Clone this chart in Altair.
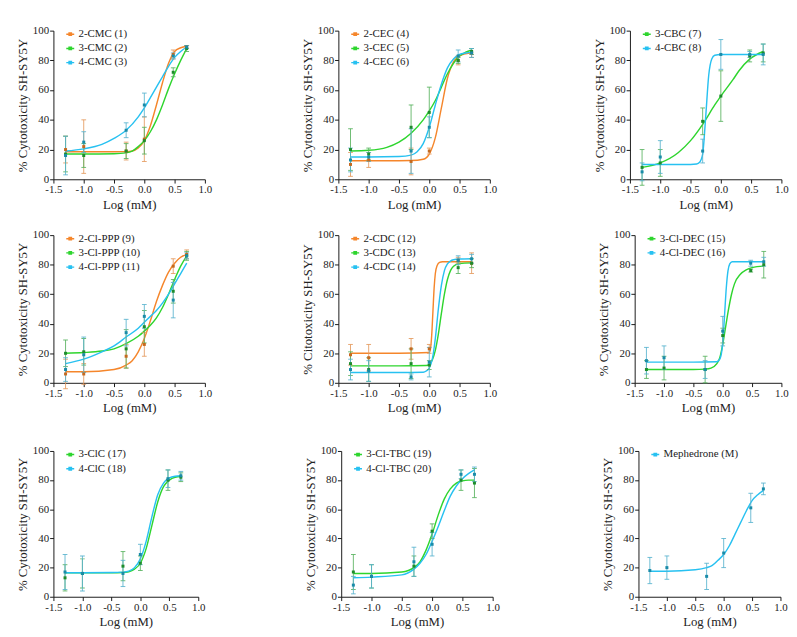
import altair as alt
import pandas as pd

# Concentrations (log mM)
X = [-1.3, -1.0, -0.3, 0.0, 0.477, 0.699]

# ---------- Panel 1: CMC ----------
cmc2_mean = [20, 22, 19, 27, 84, 89]
cmc2_err = [9, 18, 6, 15, 3, 1]
cmc2_cx = [-1.3, -1.0, -0.5, -0.3, -0.2, -0.1, 0.0, 0.1, 0.2, 0.3, 0.4, 0.5, 0.6, 0.7]
cmc2_cy = [18.5, 18.5, 18.5, 18.6, 19, 21, 26, 36, 50, 65, 78, 86, 88.5, 89.5]
cmc3_mean = [17, 16, 19, 26, 72, 88]
cmc3_err = [12, 8, 5, 9, 3, 2]
cmc3_cx = [-1.3, -1.0, -0.5, -0.3, -0.2, -0.1, 0.0, 0.1, 0.2, 0.3, 0.4, 0.5, 0.6, 0.7]
cmc3_cy = [17, 17, 17.2, 17.8, 19, 22, 26, 32, 40, 50, 61, 71, 80, 88]
cmc4_mean = [16, 25, 33, 50, 83, 89]
cmc4_err = [13, 7, 5, 8, 2, 1]
cmc4_cx = [-1.3, -1.0, -0.7, -0.5, -0.3, -0.1, 0.0, 0.1, 0.2, 0.3, 0.4, 0.5, 0.6, 0.7]
cmc4_cy = [19, 20.5, 23.5, 27.5, 33, 42, 48, 55, 62, 69, 76, 82, 86, 89]

# ---------- Panel 2: CEC ----------
cec2_mean = [10, 13, 12, 19, 80, 85]
cec2_err = [8, 5, 9, 2, 3, 3]
cec2_cx = [-1.3, -1.0, -0.5, -0.3, -0.1, 0.0, 0.1, 0.2, 0.3, 0.4, 0.5, 0.6, 0.7]
cec2_cy = [12.5, 12.5, 12.5, 12.6, 13.5, 17, 28, 48, 68, 79, 83, 84.5, 85]
cec3_mean = [20, 17, 35, 45, 80, 86]
cec3_err = [14, 4, 15, 17, 2, 2]
cec3_cx = [-1.3, -1.0, -0.7, -0.5, -0.3, -0.1, 0.0, 0.1, 0.2, 0.3, 0.4, 0.5, 0.6, 0.7]
cec3_cy = [19, 19.5, 21.5, 25, 31, 40, 46, 53, 62, 71, 78, 83, 85.5, 87]
cec4_mean = [13, 15, 19, 35, 83, 85]
cec4_err = [8, 3, 15, 7, 4, 3]
cec4_cx = [-1.3, -1.0, -0.5, -0.3, -0.2, -0.1, 0.0, 0.1, 0.2, 0.3, 0.4, 0.5, 0.6, 0.7]
cec4_cy = [15, 15, 15.3, 16.3, 18.5, 24, 35, 50, 64, 75, 81, 84, 85, 85.5]

# ---------- Panel 3: CBC ----------
cbc3_mean = [8, 11, 39, 56, 83, 85]
cbc3_err = [12, 9, 9, 17, 4, 6]
cbc3_cx = [-1.3, -1.0, -0.7, -0.5, -0.3, -0.1, 0.0, 0.2, 0.3, 0.48, 0.7]
cbc3_cy = [8, 11, 18, 26, 37, 50, 56, 67, 73, 81, 86]
cbc4_mean = [5, 15, 19, 84, 84, 84]
cbc4_err = [6, 11, 8, 10, 2, 7]
cbc4_cx = [-1.3, -1.0, -0.5, -0.4, -0.35, -0.3, -0.25, -0.2, -0.15, -0.1, 0.0, 0.7]
cbc4_cy = [10, 10, 10, 10.3, 11.5, 17, 42, 70, 81, 83.5, 84, 84]

# ---------- Panel 4: Cl-PPP ----------
ppp2_mean = [6, 6, 18, 26, 79, 87]
ppp2_err = [10, 7, 8, 8, 5, 3]
ppp2_cx = [-1.3, -1.0, -0.5, -0.3, -0.2, -0.1, 0.0, 0.1, 0.2, 0.3, 0.4, 0.5, 0.6, 0.7]
ppp2_cy = [7.5, 7.5, 9, 12, 15, 21, 30, 42, 55, 66, 75, 81, 85, 87]
ppp3_mean = [20, 21, 23, 38, 62, 86]
ppp3_err = [9, 9, 13, 11, 8, 3]
ppp3_cx = [-1.3, -1.0, -0.7, -0.5, -0.3, -0.1, 0.0, 0.1, 0.2, 0.3, 0.4, 0.5, 0.6, 0.7]
ppp3_cy = [20, 20.5, 21.5, 23, 26.5, 31.5, 35, 39, 44, 51, 60, 70, 79, 86]
ppp4_mean = [9, 19, 34, 45, 56, 86]
ppp4_err = [8, 12, 9, 8, 12, 2]
ppp4_cx = [-1.3, -1.0, -0.7, -0.5, -0.3, -0.1, 0.0, 0.1, 0.2, 0.3, 0.4, 0.5, 0.6, 0.7]
ppp4_cy = [13, 16, 21, 25, 31, 37, 41, 45, 49, 54, 60, 67, 74, 81]

# ---------- Panel 5: CDC ----------
cdc2_mean = [19, 17, 23, 23, 83, 81]
cdc2_err = [7, 9, 7, 3, 2, 7]
cdc2_cx = [-1.3, -0.5, 0.0, 0.02, 0.04, 0.06, 0.08, 0.1, 0.13, 0.17, 0.22, 0.7]
cdc2_cy = [20, 20, 20.5, 23, 32, 48, 64, 74, 79.5, 81.5, 82, 82]
cdc3_mean = [13, 9, 13, 12, 78, 81]
cdc3_err = [8, 8, 10, 3, 4, 3]
cdc3_cx = [-1.3, -0.5, -0.05, 0.0, 0.05, 0.1, 0.15, 0.2, 0.25, 0.3, 0.35, 0.4, 0.5, 0.7]
cdc3_cy = [11.5, 11.5, 11.7, 12.5, 15.5, 22, 33, 47, 60, 70, 76, 79, 80.8, 81.2]
cdc4_mean = [9, 8, 4, 14, 83, 84]
cdc4_err = [7, 7, 2, 10, 3, 3]
cdc4_cx = [-1.3, -0.5, -0.1, -0.05, 0.0, 0.05, 0.1, 0.15, 0.2, 0.25, 0.3, 0.35, 0.4, 0.5, 0.7]
cdc4_cy = [7, 7, 7.2, 8, 10, 16, 30, 50, 66, 76, 80.5, 82.5, 83.3, 83.8, 84]

# ---------- Panel 6: Cl-DEC ----------
dec3_mean = [9, 10, 9, 32, 76, 80]
dec3_err = [6, 8, 9, 5, 1, 9]
dec3_cx = [-1.3, -0.5, -0.3, -0.2, -0.1, -0.05, 0.0, 0.05, 0.1, 0.15, 0.2, 0.3, 0.4, 0.5, 0.7]
dec3_cy = [9, 9, 9.3, 10, 13, 17, 26, 38, 50, 60, 67, 73.5, 76.5, 78, 79]
dec4_mean = [15, 17, 9, 35, 81, 82]
dec4_err = [9, 8, 6, 10, 2, 3]
dec4_cx = [-1.3, -0.5, -0.1, -0.05, 0.0, 0.03, 0.06, 0.09, 0.12, 0.16, 0.7]
dec4_cy = [14, 14, 14.3, 16, 27, 45, 64, 76, 80.5, 82, 82]

# ---------- Panel 7: ClC ----------
clc3_mean = [13, 16, 21, 23, 80, 82]
clc3_err = [9, 10, 10, 5, 7, 3]
clc3_cx = [-1.3, -1.0, -0.5, -0.3, -0.2, -0.1, 0.0, 0.1, 0.2, 0.3, 0.4, 0.5, 0.6, 0.7]
clc3_cy = [16.5, 16.5, 16.5, 16.7, 17.2, 19, 23, 33, 49, 65, 75.5, 80, 82, 82.5]
clc4_mean = [17, 16, 16, 29, 81, 83]
clc4_err = [12, 12, 9, 7, 6, 3]
clc4_cx = [-1.3, -1.0, -0.5, -0.3, -0.2, -0.1, 0.0, 0.1, 0.2, 0.3, 0.4, 0.5, 0.6, 0.7]
clc4_cy = [16.5, 16.5, 16.6, 16.9, 17.6, 20, 26, 38, 55, 70, 78, 81.5, 82.7, 83]

# ---------- Panel 8: Cl-TBC ----------
tbc3_mean = [17, 14, 21, 45, 80, 78]
tbc3_err = [12, 8, 7, 5, 7, 10]
tbc3_cx = [-1.3, -1.0, -0.5, -0.3, -0.2, -0.1, 0.0, 0.1, 0.2, 0.3, 0.4, 0.5, 0.6, 0.7]
tbc3_cy = [16, 16, 17, 20, 24, 32, 43, 56, 67, 74, 78, 79.5, 80, 80]
tbc4_mean = [8, 14, 24, 36, 84, 84]
tbc4_err = [6, 8, 10, 8, 3, 5]
tbc4_cx = [-1.3, -1.0, -0.5, -0.3, -0.2, -0.1, 0.0, 0.1, 0.2, 0.3, 0.4, 0.5, 0.6, 0.7]
tbc4_cy = [13, 13.5, 15, 19, 23, 29, 38, 48, 59, 69, 76, 81, 84.5, 87]

# ---------- Panel 9: Mephedrone ----------
meph_mean = [18, 20, 14, 30, 61, 74]
meph_err = [9, 8, 9, 10, 10, 4]
meph_cx = [-1.3, -1.0, -0.5, -0.3, -0.2, -0.1, 0.0, 0.1, 0.2, 0.3, 0.4, 0.5, 0.6, 0.7]
meph_cy = [17.5, 17.5, 18.5, 20, 21.5, 25, 29, 35, 43, 51, 59, 66, 70, 73]

X_TICKS = [-1.5, -1.0, -0.5, 0.0, 0.5, 1.0]
Y_TICKS = [0, 20, 40, 60, 80, 100]

CURVE = {"o": "#F5862B", "g": "#2ED52E", "b": "#27C1F1"}
MARK = {"o": "#C5691F", "g": "#1E8C2C", "b": "#1A8BA8"}
ERR = {"o": "#E49A5E", "g": "#58B25E", "b": "#58B3CE"}

FONT = "Liberation Serif"
AX = dict(grid=False, domainColor="#111", tickColor="#111", tickSize=4,
          labelFont=FONT, labelFontSize=11.5, labelColor="#222", labelPadding=1,
          labelOverlap=False, labelFlush=False,
          titleFont=FONT, titleFontSize=13.5, titleFontWeight="normal", titleColor="#222",
          titlePadding=3)


def panel(series, ytitle, w=160, h=156):
    names = [s[0] for s in series]
    curve_rows, pt_rows = [], []
    for name, col, mean, err, cx, cy in series:
        for xv, yv in zip(cx, cy):
            curve_rows.append({"name": name, "x": xv, "y": yv})
        for xv, m, e in zip(X, mean, err):
            pt_rows.append({"name": name, "x": xv, "y": m, "lo": m - e, "hi": m + e})
    cdf = pd.DataFrame(curve_rows)
    pdf = pd.DataFrame(pt_rows)

    xs = alt.Scale(domain=[-1.5, 1.0], nice=False, zero=False)
    ys = alt.Scale(domain=[0, 100], nice=False)
    xax = alt.Axis(values=X_TICKS, title="Log (mM)",
                   labelExpr="replace(format(datum.value, '.1f'), '\u2212', '-')", **AX)
    yax = alt.Axis(values=Y_TICKS, title=ytitle, format="d", **AX)

    X_ = alt.X("x:Q", scale=xs, axis=xax)

    def Y_(f):
        return alt.Y(f, scale=ys, axis=yax)

    lines = alt.Chart(cdf).mark_line(interpolate="monotone", strokeWidth=1.5).encode(
        x=X_, y=Y_("y:Q"),
        color=alt.Color("name:N", sort=names,
                        scale=alt.Scale(domain=names, range=[CURVE[s[1]] for s in series]),
                        legend=alt.Legend(orient="none", legendX=12, legendY=-2, title=None,
                                          symbolType="M-1,0H1M-0.3,-0.3H0.3V0.3H-0.3Z",
                                          symbolSize=70, symbolStrokeWidth=1.5,
                                          labelFont=FONT, labelFontSize=11.5, labelColor="#222",
                                          rowPadding=2, padding=0, labelOffset=3)),
    )
    layers = [lines]
    for name, col, *_ in series:
        sub = pdf[pdf["name"] == name]
        base = alt.Chart(sub)
        layers.append(base.mark_rule(strokeWidth=1, color=ERR[col], opacity=0.9).encode(
            x=X_, y=Y_("lo:Q"), y2="hi:Q"))
        layers.append(base.mark_tick(orient="horizontal", size=5, thickness=1,
                                     color=ERR[col], opacity=0.9).encode(x=X_, y=Y_("lo:Q")))
        layers.append(base.mark_tick(orient="horizontal", size=5, thickness=1,
                                     color=ERR[col], opacity=0.9).encode(x=X_, y=Y_("hi:Q")))
    for name, col, *_ in series:
        sub = pdf[pdf["name"] == name]
        layers.append(alt.Chart(sub).mark_square(size=10, color=MARK[col], opacity=1).encode(
            x=X_, y=Y_("y:Q")))
    return alt.layer(*layers).properties(width=w, height=h)


YT = "%  Cytotoxicity SH-SY5Y"

p1 = panel([("2-CMC (1)", "o", cmc2_mean, cmc2_err, cmc2_cx, cmc2_cy),
            ("3-CMC (2)", "g", cmc3_mean, cmc3_err, cmc3_cx, cmc3_cy),
            ("4-CMC (3)", "b", cmc4_mean, cmc4_err, cmc4_cx, cmc4_cy)], YT, h=157)
p2 = panel([("2-CEC (4)", "o", cec2_mean, cec2_err, cec2_cx, cec2_cy),
            ("3-CEC (5)", "g", cec3_mean, cec3_err, cec3_cx, cec3_cy),
            ("4-CEC (6)", "b", cec4_mean, cec4_err, cec4_cx, cec4_cy)], YT, h=157)
p3 = panel([("3-CBC (7)", "g", cbc3_mean, cbc3_err, cbc3_cx, cbc3_cy),
            ("4-CBC (8)", "b", cbc4_mean, cbc4_err, cbc4_cx, cbc4_cy)], YT, h=157)
p4 = panel([("2-Cl-PPP (9)", "o", ppp2_mean, ppp2_err, ppp2_cx, ppp2_cy),
            ("3-Cl-PPP (10)", "g", ppp3_mean, ppp3_err, ppp3_cx, ppp3_cy),
            ("4-Cl-PPP (11)", "b", ppp4_mean, ppp4_err, ppp4_cx, ppp4_cy)], YT)
p5 = panel([("2-CDC (12)", "o", cdc2_mean, cdc2_err, cdc2_cx, cdc2_cy),
            ("3-CDC (13)", "g", cdc3_mean, cdc3_err, cdc3_cx, cdc3_cy),
            ("4-CDC (14)", "b", cdc4_mean, cdc4_err, cdc4_cx, cdc4_cy)],
           "%  Citotoxicity SH-SY5Y")
p6 = panel([("3-Cl-DEC (15)", "g", dec3_mean, dec3_err, dec3_cx, dec3_cy),
            ("4-Cl-DEC (16)", "b", dec4_mean, dec4_err, dec4_cx, dec4_cy)], YT, w=155)
p7 = panel([("3-ClC (17)", "g", clc3_mean, clc3_err, clc3_cx, clc3_cy),
            ("4-ClC (18)", "b", clc4_mean, clc4_err, clc4_cx, clc4_cy)], YT, w=153, h=154)
p8 = panel([("3-Cl-TBC (19)", "g", tbc3_mean, tbc3_err, tbc3_cx, tbc3_cy),
            ("4-Cl-TBC (20)", "b", tbc4_mean, tbc4_err, tbc4_cx, tbc4_cy)], YT, h=154)
p9 = panel([("Mephedrone (M)", "b", meph_mean, meph_err, meph_cx, meph_cy)], YT,
           w=150, h=154)


def row(a, b, c, s1, s2):
    ab = alt.hconcat(a, b, spacing=s1).resolve_scale(color="independent")
    return alt.hconcat(ab, c, spacing=s2).resolve_scale(color="independent")


row1 = row(p1, p2, p3, 93, 100)
row2 = row(p4, p5, p6, 93, 105)
row3 = row(p7, p8, p9, 103, 106)

lower = alt.vconcat(row2, row3, spacing=33).resolve_scale(color="independent")
chart = alt.vconcat(row1, lower, spacing=20).resolve_scale(color="independent").properties(
    padding={"left": 8, "top": 0, "right": 0, "bottom": 0}, background="white"
).configure_view(stroke=None)

chart.save("out.html", embed_options={"renderer": "svg", "actions": False})
